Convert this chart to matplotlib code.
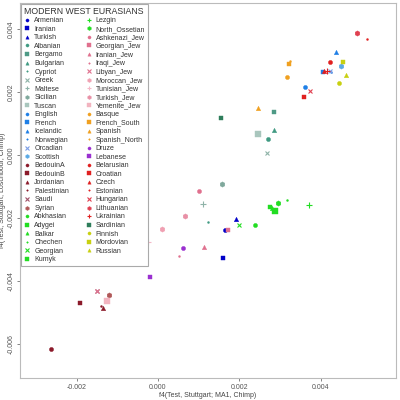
import matplotlib.pyplot as plt
from matplotlib.ticker import FormatStrFormatter

plt.rcParams['font.family'] = ['Liberation Sans', 'DejaVu Sans']
plt.rcParams['axes.unicode_minus'] = False

# populations in legend order (column by column)
populations = [
    'Armenian', 'Iranian', 'Turkish',
    'Albanian', 'Bergamo', 'Bulgarian', 'Cypriot', 'Greek', 'Maltese', 'Sicilian', 'Tuscan',
    'English', 'French', 'Icelandic', 'Norwegian', 'Orcadian', 'Scottish',
    'BedouinA', 'BedouinB', 'Jordanian', 'Palestinian', 'Saudi', 'Syrian',
    'Abkhasian', 'Adygei', 'Balkar', 'Chechen', 'Georgian', 'Kumyk', 'Lezgin', 'North_Ossetian',
    'Ashkenazi_Jew', 'Georgian_Jew', 'Iranian_Jew', 'Iraqi_Jew', 'Libyan_Jew', 'Moroccan_Jew',
    'Tunisian_Jew', 'Turkish_Jew', 'Yemenite_Jew',
    'Basque', 'French_South', 'Spanish', 'Spanish_North',
    'Druze', 'Lebanese',
    'Belarusian', 'Croatian', 'Czech', 'Estonian', 'Hungarian', 'Lithuanian', 'Ukrainian',
    'Sardinian',
    'Finnish', 'Mordovian', 'Russian',
]

# f4(Test, Stuttgart; MA1, Chimp)
f4_ma1 = [
    0.00166, 0.00159, 0.00191,
    0.00270, 0.00285, 0.00285, 0.00124, 0.00268, 0.00111, 0.00157, 0.00245,
    0.00361, 0.00405, 0.00437, 0.00425, 0.00422, 0.00451,
    -0.00263, -0.00192, -0.00134, -0.00141, -0.00151, -0.00121,
    0.00239, 0.00275, 0.00281, 0.00317, 0.00198, 0.00288, 0.00372, 0.00296,
    0.00100, 0.00173, 0.00114, 0.00052, -0.00151, 0.00009,
    -0.00024, 0.00066, -0.00125,
    0.00316, 0.00322, 0.00246, 0.00324,
    0.00062, -0.00020,
    0.00423, 0.00359, 0.00409, 0.00513, 0.00374, 0.00488, 0.00415,
    0.00156,
    0.00446, 0.00454, 0.00462,
]

# f4(Test, Stuttgart; Loschbour, Chimp)
f4_loschbour = [
    -0.00238, -0.00326, -0.00202,
    0.00051, 0.00139, 0.00080, -0.00212, 0.00007, -0.00155, -0.00092, 0.00069,
    0.00216, 0.00265, 0.00328, 0.00266, 0.00268, 0.00285,
    -0.00615, -0.00470, -0.00486, -0.00480, -0.00431, -0.00444,
    -0.00221, -0.00165, -0.00168, -0.00141, -0.00221, -0.00177, -0.00158, -0.00151,
    -0.00114, -0.00236, -0.00293, -0.00320, -0.00431, -0.00234,
    -0.00276, -0.00192, -0.00463,
    0.00250, 0.00290, 0.00150, 0.00300,
    -0.00295, -0.00388,
    0.00298, 0.00184, 0.00268, 0.00371, 0.00205, 0.00389, 0.00269,
    0.00119,
    0.00229, 0.00297, 0.00255,
]

# marker style per population (R-like symbols)
markers = [
    'o', 's', '^',
    'o', 's', '^', '.', 'x', '+', 'h', 's',
    'o', 's', '^', '.', 'x', 'h',
    'o', 's', '^', '.', 'x', 'h',
    'o', 's', '^', '.', 'x', 's', '+', 'h',
    'o', 's', '^', '.', 'x', 'h', '+', 'h', 's',
    'o', 's', '^', '.',
    'o', 's',
    'o', 's', '^', '.', 'x', 'h', '+',
    's',
    'o', 's', '^',
]

colors = [
    '#0000c8', '#0000c8', '#0000c8',
    '#3f9a82', '#4e9a86', '#3f9a82', '#3f9a82', '#8fb3a8', '#8fb3a8', '#7fa89c', '#a9c6bd',
    '#1f7fe6', '#1f7fe6', '#1f7fe6', '#1f7fe6', '#7c9ee6', '#5aaae6',
    '#8b1a2a', '#8b1a2a', '#8b1a2a', '#8b1a2a', '#a05068', '#b05858',
    '#22dd22', '#22dd22', '#22dd22', '#22dd22', '#22dd22', '#22dd22', '#22dd22', '#22dd22',
    '#e0708e', '#e0708e', '#e0708e', '#e0708e', '#e0708e', '#f0a0b2', '#f4b8c8', '#e890a6', '#f2b4c0',
    '#f0a020', '#f0a020', '#f0a020', '#f0a020',
    '#9a30d0', '#9a30d0',
    '#e02020', '#e02020', '#e02020', '#e02020', '#e04050', '#e04050', '#e02020',
    '#2e7d5b',
    '#c8d010', '#c8d010', '#c8d010',
]

sizes = {'o': 3.0, 's': 3.0, '^': 3.2, '.': 2.8, 'x': 3.2, '+': 4.0, 'h': 3.8}

fig = plt.figure(figsize=(4, 4), dpi=100)
ax = fig.add_axes([0.05, 0.055, 0.94, 0.9375])

for name, xv, yv, mk, col in zip(populations, f4_ma1, f4_loschbour, markers, colors):
    ms = sizes[mk]
    if mk == 's' and name in ('Tuscan', 'Yemenite_Jew', 'Kumyk'):
        ms = 3.8
    ax.plot(xv, yv, linestyle='none', marker=mk, markersize=ms, color=col,
            markeredgewidth=0.8 if mk in 'x+' else 0.3, label=name)

ax.set_xlim(-0.00339, 0.00585)
ax.set_ylim(-0.00708, 0.00484)
ax.set_xticks([-0.002, 0.0, 0.002, 0.004])
ax.set_yticks([-0.006, -0.004, -0.002, 0.0, 0.002, 0.004])
ax.xaxis.set_major_formatter(FormatStrFormatter('%.3f'))
ax.yaxis.set_major_formatter(FormatStrFormatter('%.3f'))
ax.tick_params(labelsize=5, colors='#555555', length=2.5, width=0.5, pad=1.5)
for lab in ax.get_yticklabels():
    lab.set_rotation(90)
    lab.set_va('center')
for sp in ax.spines.values():
    sp.set_color('#bbbbbb')
    sp.set_linewidth(0.8)

ax.set_xlabel('f4(Test, Stuttgart; MA1, Chimp)', fontsize=5, color='#444444', labelpad=1)
ax.set_ylabel('f4(Test, Stuttgart; Loschbour, Chimp)', fontsize=5, color='#444444', labelpad=1)

leg = ax.legend(loc='upper left', bbox_to_anchor=(0, 1), borderaxespad=0.15, ncol=2,
                fontsize=5, title='MODERN WEST EURASIANS', title_fontsize=6.3,
                alignment='left', labelspacing=0.22, handlelength=1.0, handletextpad=0.5,
                columnspacing=2.3, borderpad=0.4, fancybox=False, framealpha=1,
                markerscale=0.75)
leg.get_frame().set_edgecolor('#aaaaaa')
leg.get_frame().set_linewidth(0.8)
for t in leg.get_texts():
    t.set_color('#333333')
leg.get_title().set_color('#333333')

fig.savefig('out.png', dpi=100)
